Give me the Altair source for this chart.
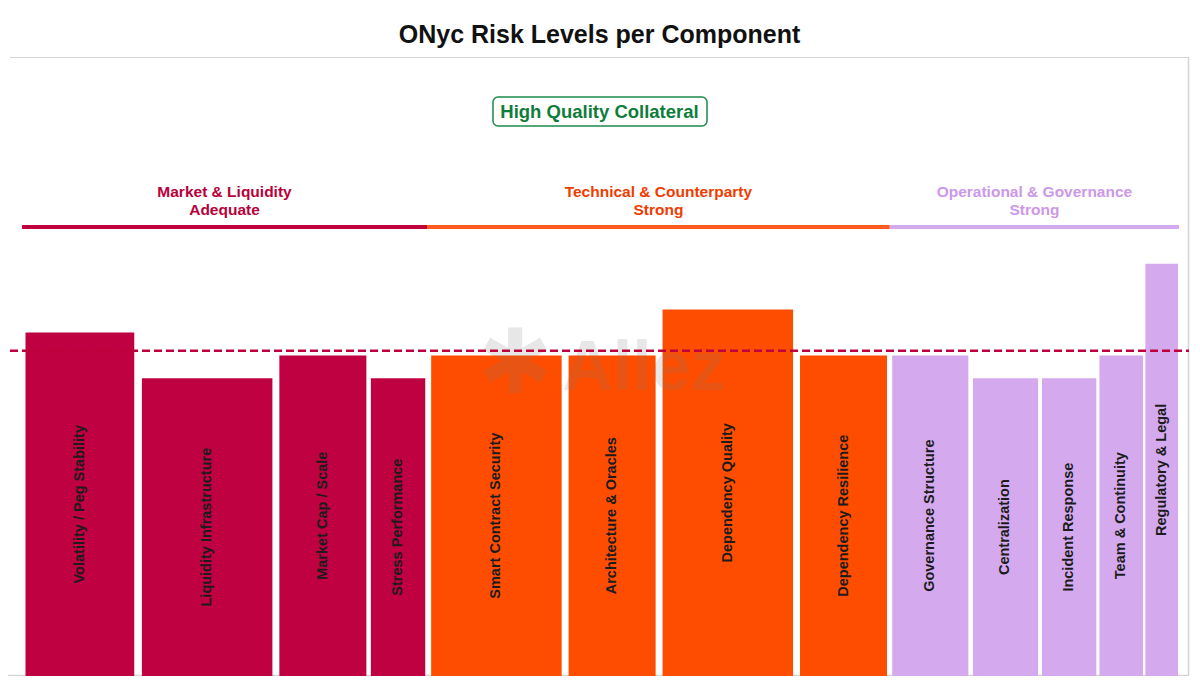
import altair as alt
import pandas as pd

# ---------------- data ----------------
components = [
    "Volatility / Peg Stability", "Liquidity Infrastructure", "Market Cap / Scale",
    "Stress Performance", "Smart Contract Security", "Architecture & Oracles",
    "Dependency Quality", "Dependency Resilience", "Governance Structure",
    "Centralization", "Incident Response", "Team & Continuity", "Regulatory & Legal",
]
component_groups = [
    "Market & Liquidity", "Market & Liquidity", "Market & Liquidity", "Market & Liquidity",
    "Technical & Counterparty", "Technical & Counterparty", "Technical & Counterparty",
    "Technical & Counterparty",
    "Operational & Governance", "Operational & Governance", "Operational & Governance",
    "Operational & Governance", "Operational & Governance",
]
weights = [10, 12, 8, 5, 12, 8, 12, 8, 7, 6, 5, 4, 3]
risk_levels = [3.0, 2.6, 2.8, 2.6, 2.8, 2.8, 3.2, 2.8, 2.8, 2.6, 2.6, 2.8, 3.6]

group_names = ["Market & Liquidity", "Technical & Counterparty", "Operational & Governance"]
group_ratings = ["Adequate", "Strong", "Strong"]

threshold = [2.84]
overall_rating = ["High Quality Collateral"]
title_text = "ONyc Risk Levels per Component"

# ---------------- styles ----------------
bar_colors = ["#bf0041", "#ff4d00", "#d4a9ee"]
line_colors = ["#c0003c", "#ff5a1f", "#d4a9ee"]
text_colors = ["#b8003a", "#f03c00", "#cc98e8"]
FONT = "Liberation Sans"
W, H = 1179, 619

df = pd.DataFrame({
    "component": components,
    "group": component_groups,
    "weight": weights,
    "risk": risk_levels,
    "order": list(range(len(components))),
})
gdf = pd.DataFrame({"group": group_names, "rating": group_ratings})
tdf = pd.DataFrame({"threshold": threshold})
odf = pd.DataFrame({"label": overall_rating})
one = pd.DataFrame({"a": [0]})

xs = alt.Scale(domain=[-1.04, 100.86], nice=False, zero=False)
ys = alt.Scale(domain=[0, 5.406], nice=False, zero=False)

base = (
    alt.Chart(df)
    .transform_window(cum="sum(weight)", sort=[alt.SortField("order")])
    .transform_calculate(
        start="datum.cum - datum.weight",
        x0="datum.cum - datum.weight + 0.03 * datum.weight",
        x1="datum.cum - 0.03 * datum.weight",
        xm="datum.cum - datum.weight / 2",
        ymid="datum.risk / 2",
    )
)

bars = base.mark_rect().encode(
    x=alt.X("x0:Q", scale=xs, axis=None),
    x2="x1:Q",
    y=alt.Y("risk:Q", scale=ys, axis=None),
    y2=alt.datum(0),
    fill=alt.Fill("group:N", scale=alt.Scale(domain=group_names, range=bar_colors), legend=None),
)

bar_labels = base.mark_text(
    angle=270, fontSize=14.5, fontWeight="bold", font=FONT, color="#1c1c1c",
    align="center", baseline="middle",
).encode(
    x=alt.X("xm:Q", scale=xs, axis=None),
    y=alt.Y("ymid:Q", scale=ys, axis=None),
    text="component:N",
)

watermark_logo = alt.Chart(one).mark_text(
    text="✱", font="DejaVu Sans", fontSize=90, color="#777777", opacity=0.17,
    align="center", baseline="middle",
).encode(x=alt.value(505), y=alt.value(309))

watermark = alt.Chart(one).mark_text(
    text="Allez", font=FONT, fontWeight="bold", fontSize=70, color="#777777",
    opacity=0.17, align="center", baseline="middle",
).encode(x=alt.value(634), y=alt.value(312))

dashed = alt.Chart(tdf).mark_rule(
    color="#c0003c", strokeWidth=2.5, strokeDash=[8, 4]
).encode(
    y=alt.Y("threshold:Q", scale=ys, axis=None),
    x=alt.value(0), x2=alt.value(W),
)

groups = (
    base.transform_aggregate(gstart="min(start)", gend="max(cum)", groupby=["group"])
    .transform_lookup(lookup="group", from_=alt.LookupData(gdf, "group", ["rating"]))
    .transform_calculate(
        gmid="(datum.gstart + datum.gend) / 2",
        glabel="datum.group + '\\n' + datum.rating",
    )
)

group_lines = groups.mark_rule(strokeWidth=4).encode(
    x=alt.X("gstart:Q", scale=xs, axis=None),
    x2="gend:Q",
    y=alt.value(170),
    stroke=alt.Stroke("group:N", scale=alt.Scale(domain=group_names, range=line_colors), legend=None),
)

group_labels = groups.mark_text(
    fontSize=15.5, fontWeight="bold", font=FONT, lineBreak="\n", lineHeight=18,
    align="center", baseline="middle",
).encode(
    x=alt.X("gmid:Q", scale=xs, axis=None),
    y=alt.value(135),
    text="glabel:N",
    color=alt.Color("group:N", scale=alt.Scale(domain=group_names, range=text_colors), legend=None),
)

box = alt.Chart(odf).mark_rect(
    fill="white", stroke="#1f8a4c", strokeWidth=1.5, cornerRadius=5
).encode(x=alt.value(483), x2=alt.value(697), y=alt.value(40), y2=alt.value(69))

box_text = alt.Chart(odf).mark_text(
    fontSize=18.5, fontWeight="bold", font=FONT, color="#0f7d3a",
    align="center", baseline="middle",
).encode(x=alt.value(W / 2), y=alt.value(55), text="label:N")

frame_col = "#d4d4d4"
frame_top = alt.Chart(one).mark_rule(color=frame_col, strokeWidth=1).encode(
    x=alt.value(0), x2=alt.value(W), y=alt.value(0.5))
frame_right = alt.Chart(one).mark_rule(color=frame_col, strokeWidth=1.5).encode(
    x=alt.value(W - 0.5), y=alt.value(0), y2=alt.value(H))
frame_bottom = alt.Chart(one).mark_rule(color=frame_col, strokeWidth=1.5).encode(
    x=alt.value(-2), x2=alt.value(W), y=alt.value(H - 0.5))

chart = (
    alt.layer(
        frame_top, frame_right, frame_bottom,
        bars, bar_labels, watermark_logo, watermark, dashed,
        group_lines, group_labels, box, box_text,
    )
    .properties(
        width=W, height=H,
        title=alt.TitleParams(
            title_text, font=FONT, fontSize=25, fontWeight="bold", color="#111111",
            anchor="middle", offset=8,
        ),
        padding={"left": 2, "top": 49, "right": 2, "bottom": 0},
        autosize=alt.AutoSizeParams(type="none"),
        background="white",
    )
    .configure_view(stroke=None)
)

chart.save("out.html", embed_options={"renderer": "svg", "actions": False})
